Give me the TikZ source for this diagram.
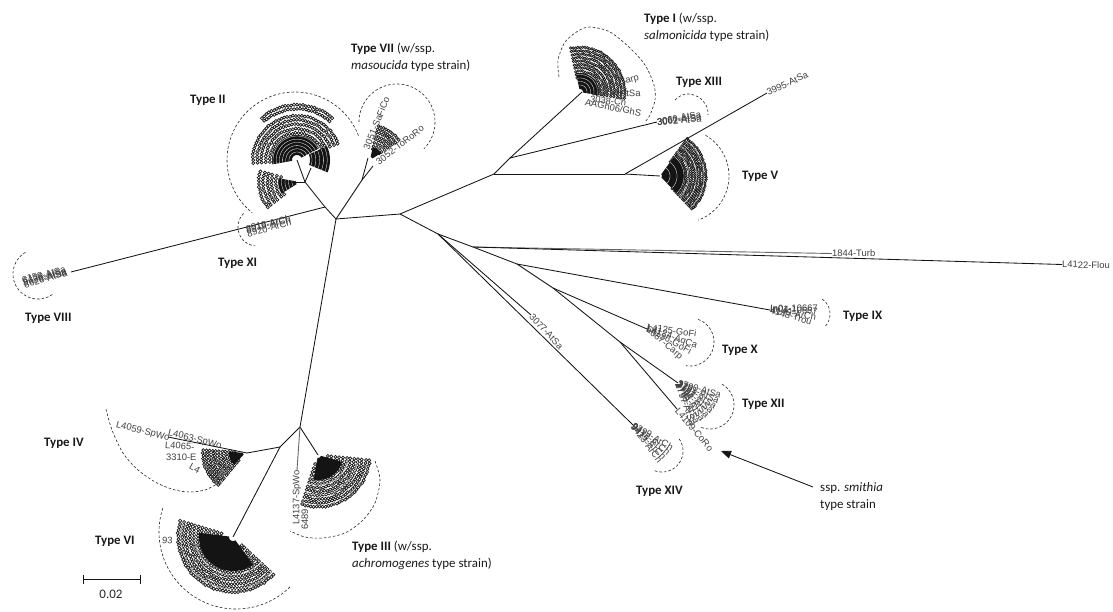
\documentclass[tikz,border=0pt]{standalone}
\usepackage{fontspec}
\setmainfont{Carlito}
\newfontfamily\leaffont{Liberation Sans}
\usetikzlibrary{arrows.meta}
\tikzset{
  x=1pt,y=-1pt,
  edge/.style={draw=black!92,line width=0.85pt},
  paleedge/.style={draw=black!60,line width=0.9pt},
  dasharc/.style={draw=black!85,line width=0.6pt,dash pattern=on 2.6pt off 2pt},
  leaf/.style={font=\leaffont\fontsize{9.4}{10}\selectfont,text=black!75,inner sep=0pt,anchor=west},
  typelab/.style={font=\fontsize{12.9}{16.5}\selectfont,text=black!90,inner sep=0pt,anchor=base west,align=left},
  ringc/.style={draw=black!90,line width=0.7pt},
  fanfill/.style={fill=black!92},
}
\pgfmathsetseed{4242}
\newcommand\darc[5]{\draw[dasharc] plot[variable=\t,domain=#4:#5,samples=70,smooth] ({#1+#3*cos(\t)},{#2-#3*sin(\t)});}
\newcommand\sect[6]{\fill[fanfill] ({#1+#5*cos(#3)},{#2-#5*sin(#3)}) -- plot[variable=\t,domain=#3:#4,samples=30] ({#1+#6*cos(\t)},{#2-#6*sin(\t)}) -- plot[variable=\t,domain=#4:#3,samples=30] ({#1+#5*cos(\t)},{#2-#5*sin(\t)}) -- cycle;}
% rings of small circles: cx cy a1 a2 r0 r1 rstep crad
\newcommand\ringfan[8]{%
  \pgfmathsetmacro\rnext{#5+#7}%
  \foreach \r in {#5,\rnext,...,#6}{%
    \pgfmathtruncatemacro\nn{max(2,abs(#4-#3)*3.14159/180*\r/(1.9*#8))}%
    \foreach \i in {0,...,\nn}{%
      \pgfmathsetmacro\a{#3+(#4-#3)*\i/\nn}%
      \pgfmathsetmacro\q{\r+0.5*rand}%
      \draw[ringc] ({#1+\q*cos(\a)},{#2-\q*sin(\a)}) circle[radius=#8];
    }%
  }%
}
\newcommand\gaps[7]{%
  \pgfmathsetmacro\rnext{#5+#7}%
  \foreach \r in {#5,\rnext,...,#6}{%
    \draw[white,line width=0.3pt] plot[variable=\t,domain=#3:#4,samples=24] ({#1+\r*cos(\t)},{#2-\r*sin(\t)});
  }%
}
\begin{document}
\begin{tikzpicture}
\useasboundingbox (0,0) rectangle (1113,611);
\coordinate (A) at (336,219);
\coordinate (B) at (400,214);
\coordinate (C) at (300,427);
\coordinate (C2) at (280,447);
\coordinate (P) at (325,207);
\coordinate (P2) at (305,182);
\coordinate (Q) at (362,180);
\coordinate (R) at (494,174);
\coordinate (R2) at (510,158);
\coordinate (S) at (625,174);
\coordinate (D) at (438,234);
\coordinate (E) at (473,247);
\coordinate (F) at (517,264);
\coordinate (G) at (553,288);
\coordinate (H) at (620,342);
\coordinate (t1) at (582,92);
\coordinate (t2) at (297,160);
\coordinate (t2b) at (311,168);
\coordinate (t2c) at (292,182);
\coordinate (t3) at (318,455);
\coordinate (t4) at (247,453);
\coordinate (t4b) at (168,437);
\coordinate (t5) at (660,176);
\coordinate (t6) at (233,537);
\coordinate (t7) at (368,158);
\coordinate (t7b) at (373,166);
\coordinate (t8) at (71,272);
\coordinate (t9) at (770,310);
\coordinate (t10) at (647,329);
\coordinate (t12) at (678,383);
\coordinate (t13) at (657,122);
\coordinate (t14) at (633,425);

% Type II upper
\ringfan{297}{160}{184}{22}{27}{47}{4.3}{1.55}
\ringfan{297}{160}{130}{50}{51}{53}{4}{1.55}
\sect{297}{160}{190}{28}{5}{25}
\gaps{297}{160}{190}{28}{8}{25}{3.2}
\sect{297}{160}{25}{-22}{13}{33}
\gaps{297}{160}{25}{-22}{15}{33}{3.8}
% Type II lower
\ringfan{300}{182}{165}{218}{20}{45}{4.2}{1.55}
\sect{300}{182}{170}{212}{4}{22}
\gaps{300}{182}{170}{212}{8}{22}{3.5}
% Type VII
\ringfan{370}{160}{35}{76}{11}{36}{3.4}{1.4}
\sect{370}{160}{32}{78}{3}{13}
% Type I
\ringfan{580}{92}{-8}{102}{14}{47}{3.4}{1.25}
\sect{580}{92}{-10}{102}{3}{19}
\gaps{580}{92}{-10}{102}{7}{19}{3.5}
% Type V
\ringfan{660}{176}{-46}{54}{18}{47}{2.8}{1.15}
\sect{660}{176}{-46}{54}{2}{25}
\gaps{660}{176}{-46}{54}{29}{44}{7.5}
\gaps{660}{176}{-46}{54}{10}{24}{7}
% Type III
\ringfan{318}{455}{-108}{-6}{10}{54}{3.8}{1.55}
\sect{318}{455}{-100}{-16}{3}{25}
\gaps{318}{455}{-108}{-8}{30}{50}{10}
% Type IV
\ringfan{245}{453}{176}{230}{10}{44}{3.2}{1.45}
\sect{245}{453}{175}{228}{2}{16}
% Type VI
\ringfan{233}{537}{163}{317}{12}{55}{3.9}{1.6}
\sect{233}{537}{173}{306}{4}{34}
\gaps{233}{537}{163}{320}{38}{52}{14}

\draw[edge] (A) -- (B);
\draw[edge] (A) -- (C);
\draw[edge] (A) -- (P);
\draw[edge] (P) -- (t8);
\draw[edge] (P) -- (P2);
\draw[edge] (P2) -- (t2);
\draw[edge] (P2) -- (t2b);
\draw[edge] (P2) -- (t2c);
\draw[edge] (A) -- (Q);
\draw[edge] (Q) -- (t7);
\draw[edge] (Q) -- (t7b);
\draw[edge] (B) -- (R);
\draw[edge] (R) -- (R2);
\draw[edge] (R2) -- (t1);
\draw[edge] (R2) -- (t13);
\draw[edge] (R) -- (S);
\draw[edge] (S) -- (t5);
\draw[edge] (C) -- (C2);
\draw[edge] (C2) -- (t4);
\draw[edge] (t4) -- (t4b);
\draw[edge] (C2) -- (t6);
\draw[edge] (C) -- (t3);
\draw[edge] (B) -- (D);
\draw[edge] (D) -- (E);
\draw[edge] (E) -- (F);
\draw[edge] (F) -- (G);
\draw[edge] (G) -- (H);
\draw[edge] (F) -- (t9);
\draw[edge] (G) -- (t10);
\draw[edge] (H) -- (t12);
\draw[edge] (D) -- (t14);

\node[leaf] (l3995) at (767,93) [rotate=25] {3995-AtSa};
\draw[edge] (S) -- (l3995.west);
\node[leaf] (l1844) at (832,253.5) {1844-Turb};
\draw[paleedge] (E) -- (l1844.west);
\node[leaf] (l4122) at (1062,264.5) [rotate=-0.5] {L4122-Flou};
\draw[edge] (E) -- (l4122.west);
\node[leaf] (l3077) at (531,315) [rotate=-47] {3077-AtSa};
\draw[edge] (D) -- (l3077.west);
\node[leaf] (l4109) at (677,409) [rotate=-50] {L4109-CoRo};
\draw[edge] (H) -- (l4109.west);
\node[leaf] (l4137) at (297,525) [rotate=90] {L4137-SpWo};
\draw[paleedge] (C) -- (l4137.east);
\node[leaf] (l6489) at (305,530) [rotate=90] {6489-};
\node[leaf] (l4059) at (116,425) [rotate=-14] {L4059-SpWo};
\node[leaf] (l4063) at (168,433) [rotate=-14] {L4063-SpWo};
\node[leaf] (l40b) at (165,445) [rotate=-4] {L4065-};
\node[leaf] (l3310) at (166,457) {3310-E};
\node[leaf] (l41) at (190,466) [rotate=-28] {L4};
\node[leaf] (l93) at (162,540) [rotate=-5] {93};

% Type XI
\node[leaf] (x1) at (246,229) [rotate=14] {8918-ArCh};
\node[leaf] (x2) at (246,230) [rotate=13] {8919-ArCh};
\node[leaf] (x3) at (247,234) [rotate=15] {8920-ArCh};
% Type VIII
\node[leaf] (v1) at (22,280) [rotate=14] {6158-AtSa};
\node[leaf] (v2) at (23,281) [rotate=13] {6128-AtSa};
\node[leaf] (v3) at (23,283) [rotate=14] {8626-AtSa};
\node[leaf] (v4) at (24,285) [rotate=16] {8628-AtSa};
% Type XIII
\node[leaf] (xiii1) at (657,122) [rotate=10] {3060-AtSa};
\node[leaf] (xiii2) at (657,122) [rotate=7] {3061-AtSa};
\node[leaf] (xiii3) at (657,122.5) [rotate=5] {3062-AtSa};
% Type VII
\node[leaf] (vii1) at (366,149) [rotate=68] {3051-SaFiCo};
\node[leaf] (vii2) at (377,163) [rotate=38] {3052-ToRoRo};
% Type I
\node[leaf] (i1) at (596,92) [rotate=-2] {3050-AtSa};
\node[leaf] (i2) at (596,90) [rotate=16] {3041-Carp};
\node[leaf] (i3) at (585,102) [rotate=-11] {AAGh06/GhS};
\node[leaf] (i4) at (590,99) [rotate=-6] {3038-Ch};
% Type IX
\node[leaf] (ix1) at (770,309) [rotate=1] {In01-10667};
\node[leaf] (ix2) at (771,310) [rotate=-9] {4149-ArCh};
\node[leaf] (ix3) at (770,310) [rotate=-16] {4148-Trou};
\node[leaf] (ix4) at (770,308) [rotate=-4] {In04-10667};
% Type X
\node[leaf] (x11) at (647,327) [rotate=-8] {L4125-GoFi};
\node[leaf] (x12) at (647,328) [rotate=-20] {L4124-AqCa};
\node[leaf] (x13) at (647,328) [rotate=-28] {L4126-GoFi};
\node[leaf] (x14) at (647,329) [rotate=-40] {6087-Carp};
% Type XII
\foreach \n/\ang/\lab in {1/-16/2790,2/-24/2791,3/-32/2792,4/-40/2793,5/-48/2794,6/-56/2795,7/-64/2796,8/-70/2797}{
  \node[leaf] (xii\n) at (678,383) [rotate=\ang] {\lab-AtSa};
}
% Type XIV
\foreach \n/\ang/\lab in {1/-30/9399,2/-38/9413,3/-46/9415,4/-53/9423}{
  \node[leaf] (xiv\n) at (633,425) [rotate=\ang] {\lab-ArCh};
}

\darc{295}{160}{68}{21}{231}
\darc{397}{122}{38}{180}{-45}
\darc{257}{227}{19}{135}{265}
\darc{38}{274}{25}{120}{305}
\darc{682}{176}{47}{60}{-70}
\darc{812}{314}{18}{55}{-45}
\darc{690}{342}{24}{70}{-100}
\darc{710}{405}{24}{60}{-115}
\darc{662}{451}{21}{35}{-110}
\darc{236}{532}{77}{162}{315}
\draw[dasharc] plot[smooth] coordinates {(559,77)(558,60)(565,42)(578,31)(590,27)(610,32)(630,48)(645,65)(654,85)(655,100)(650,115)(645,122)};
\draw[dasharc] plot[smooth] coordinates {(675,100)(682,95)(690,94)(700,98)(707,107)(708,115)};
\draw[dasharc] plot[smooth] coordinates {(106,409)(112,430)(123,453)(138,470)(157,483)(175,490)(190,492)(205,490)(217,484)};
\draw[dasharc] plot[smooth] coordinates {(375,461)(380,480)(375,503)(363,520)(345,533)(323,538)(305,537)(290,531)};

\node[typelab] (tI) at (644,39) {\textbf{Type I} (w/ssp.\\\textit{salmonicida} type strain)};
\node[typelab] (tVII) at (351,69) {\textbf{Type VII} (w/ssp.\\\textit{masoucida} type strain)};
\node[typelab] (tII) at (190,103) {\textbf{Type II}};
\node[typelab] (tXIII) at (676,85) {\textbf{Type XIII}};
\node[typelab] (tV) at (742,179) {\textbf{Type V}};
\node[typelab] (tXI) at (218,266) {\textbf{Type XI}};
\node[typelab] (tVIII) at (25,321) {\textbf{Type VIII}};
\node[typelab] (tIX) at (843,319) {\textbf{Type IX}};
\node[typelab] (tX) at (722,353) {\textbf{Type X}};
\node[typelab] (tXII) at (742,407) {\textbf{Type XII}};
\node[typelab] (tXIV) at (636,494) {\textbf{Type XIV}};
\node[typelab] (tIV) at (44,446) {\textbf{Type IV}};
\node[typelab] (tVI) at (95,544) {\textbf{Type VI}};
\node[typelab] (tIII) at (352,567) {\textbf{Type III} (w/ssp.\\\textit{achromogenes} type strain)};
\node[typelab] (ssp) at (820,508) {ssp. \textit{smithia}\\type strain};

\coordinate (arrowtip) at (721,451);
\coordinate (arrowtail) at (813,487);
\draw[edge,-{Triangle[length=10pt,width=8pt]}] (arrowtail) -- (arrowtip);

\coordinate (sl) at (83,579);
\coordinate (sr) at (140,579);
\draw[edge] (sl) -- (sr);
\coordinate (sl1) at (83,574.5);
\coordinate (sl2) at (83,584);
\coordinate (sr1) at (140,574.5);
\coordinate (sr2) at (140,584);
\draw[edge] (sl1) -- (sl2);
\draw[edge] (sr1) -- (sr2);
\node[font=\fontsize{13}{15}\selectfont,text=black!85,inner sep=0pt] (scale) at (111,594) {0.02};
\end{tikzpicture}
\end{document}
